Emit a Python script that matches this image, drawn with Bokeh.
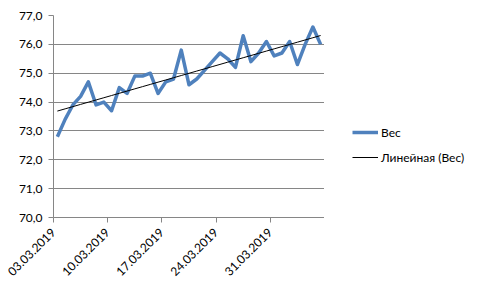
import numpy as np
import pandas as pd
from bokeh.plotting import figure
from bokeh.layouts import row
from bokeh.models import FixedTicker, Legend, LegendItem, Range1d
from bokeh.embed import file_html
from bokeh.resources import INLINE

dates = [d.strftime("%d.%m.%Y") for d in pd.date_range("2019-03-03", periods=35, freq="D")]
weight = [72.8, 73.4, 73.9, 74.2, 74.7, 73.9, 74.0, 73.7, 74.5, 74.3,
          74.9, 74.9, 75.0, 74.3, 74.7, 74.8, 75.8, 74.6, 74.8, 75.1,
          75.4, 75.7, 75.5, 75.2, 76.3, 75.4, 75.7, 76.1, 75.6, 75.7,
          76.1, 75.3, 76.0, 76.6, 76.0]
y_ticks = [70, 71, 72, 73, 74, 75, 76, 77]
series_name = "Вес"
trend_name = "Линейная (Вес)"

x = np.arange(len(weight))
slope, intercept = np.polyfit(x, np.array(weight), 1)
trend = slope * x + intercept

FONT = "Lato"
BLUE = "#4F81BD"
GRID = "#868686"

p = figure(width=324, height=290, output_backend="svg", toolbar_location=None,
           x_range=Range1d(-0.5, len(weight) - 0.5), y_range=Range1d(70, 77),
           min_border_left=53, min_border_right=0, min_border_top=15,
           min_border_bottom=73)
p.outline_line_color = None
p.background_fill_color = "white"

r1 = p.line(x, weight, line_color=BLUE, line_width=3.5, line_join="round")
r2 = p.line(x, trend, line_color="black", line_width=1)

p.yaxis.ticker = FixedTicker(ticks=y_ticks)
p.yaxis.major_label_overrides = {t: f"{t},0" for t in y_ticks}
p.yaxis.minor_tick_line_color = None
p.yaxis.major_tick_out = 5
p.yaxis.major_tick_in = 0
p.yaxis.axis_line_color = GRID
p.yaxis.major_tick_line_color = GRID
p.yaxis.major_label_text_font = FONT
p.yaxis.major_label_text_font_size = "12px"
p.yaxis.major_label_text_color = "black"
p.yaxis.major_label_standoff = 6

xt = [i - 0.5 for i in range(0, len(weight) + 1, 7)]
p.xaxis.ticker = FixedTicker(ticks=xt)
p.xaxis.major_label_overrides = {t: (dates[int(t + 0.5)] if int(t + 0.5) < len(dates) else "") for t in xt}
p.xaxis.major_label_orientation = np.pi / 4
p.xaxis.minor_tick_line_color = None
p.xaxis.major_tick_out = 5
p.xaxis.major_tick_in = 0
p.xaxis.axis_line_color = GRID
p.xaxis.major_tick_line_color = GRID
p.xaxis.major_label_text_font = FONT
p.xaxis.major_label_text_font_size = "12px"
p.xaxis.major_label_text_color = "black"
p.xaxis.major_label_standoff = 8

p.xgrid.grid_line_color = None
p.ygrid.ticker = FixedTicker(ticks=y_ticks)
p.ygrid.grid_line_color = GRID
p.ygrid.grid_line_width = 1

# legend panel (series drawn off-range so only the legend shows)
q = figure(width=158, height=290, output_backend="svg", toolbar_location=None,
           x_range=Range1d(-1000, -999), y_range=Range1d(-1000, -999),
           min_border_left=0, min_border_right=0, min_border_top=0, min_border_bottom=0)
q.axis.visible = False
q.grid.visible = False
q.outline_line_color = None
l1 = q.line(x, weight, line_color=BLUE, line_width=3.5)
l2 = q.line(x, trend, line_color="black", line_width=1)

legend = Legend(items=[LegendItem(label=series_name, renderers=[l1]),
                       LegendItem(label=trend_name, renderers=[l2])],
                location=(28, 52), orientation="vertical",
                glyph_width=26, glyph_height=16, label_height=16, label_standoff=3, spacing=9,
                padding=0, margin=0, border_line_color=None, background_fill_alpha=0,
                label_text_font=FONT, label_text_font_size="12px", label_text_color="black")
q.add_layout(legend, "center")

layout = row(p, q, spacing=0)
open("out.html", "w").write(file_html(layout, INLINE))
